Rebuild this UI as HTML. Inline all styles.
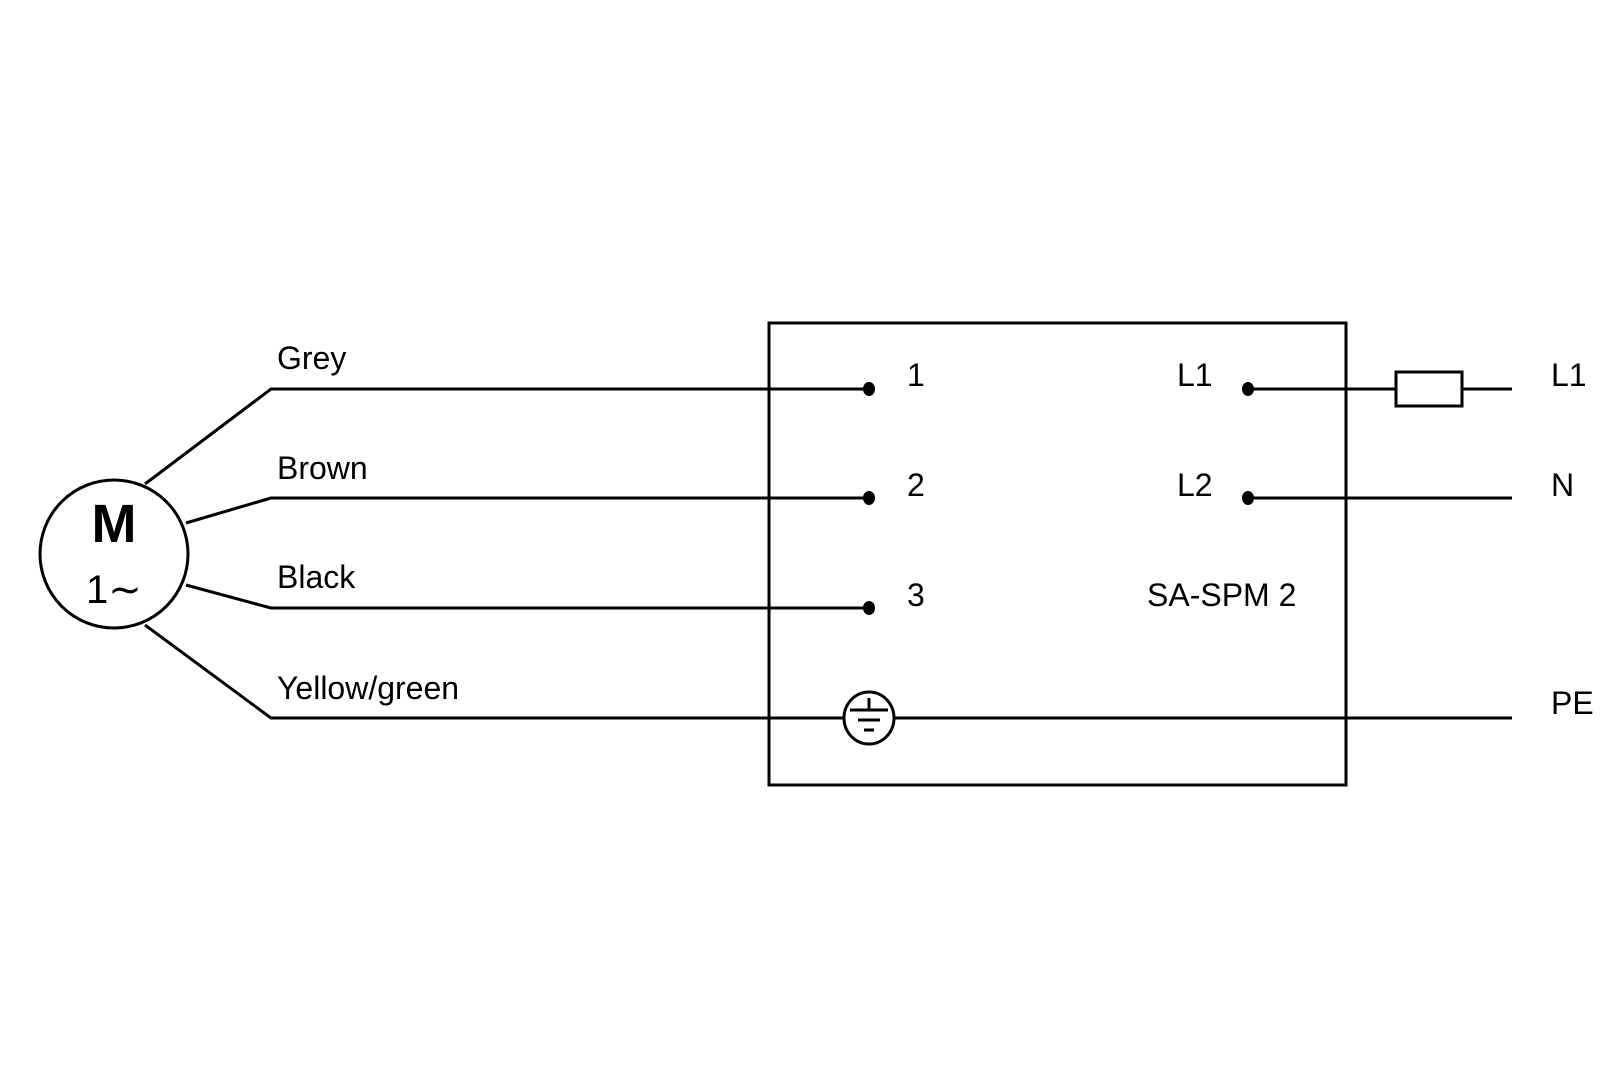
<!DOCTYPE html>
<html><head><style>html,body{margin:0;padding:0;background:#fff}svg{display:block}</style></head><body>
<svg width="1620" height="1080" viewBox="0 0 1620 1080" xmlns="http://www.w3.org/2000/svg" font-family="Liberation Sans, sans-serif">
<rect width="1620" height="1080" fill="#fff"/>
<g stroke="#000" stroke-width="3" fill="none">
<rect x="769" y="323" width="577" height="462"/>
<circle cx="114" cy="554" r="74"/>
<polyline points="145,484 271,389 869,389"/>
<polyline points="186,523 271,498 869,498"/>
<polyline points="186,585 271,608 869,608"/>
<polyline points="145,625 271,718 844,718"/>
<line x1="894" y1="718" x2="1512" y2="718"/>
<line x1="1248" y1="389" x2="1512" y2="389"/>
<line x1="1248" y1="498" x2="1512" y2="498"/>
<rect x="1396" y="372" width="66" height="34" fill="#fff"/>
<ellipse cx="869" cy="718" rx="25" ry="26"/>
<line x1="869" y1="698" x2="869" y2="710"/>
<line x1="850" y1="710" x2="888" y2="710"/>
<line x1="858" y1="720" x2="880" y2="720"/>
<line x1="864" y1="730" x2="874" y2="730"/>
</g>
<g fill="#000">
<ellipse cx="869" cy="389" rx="6" ry="7"/>
<ellipse cx="869" cy="498" rx="6" ry="7"/>
<ellipse cx="869" cy="608" rx="6" ry="7"/>
<ellipse cx="1248" cy="389" rx="6" ry="7"/>
<ellipse cx="1248" cy="498" rx="6" ry="7"/>
</g>
<g font-size="32" fill="#000">
<text x="277" y="369">Grey</text>
<text x="277" y="479">Brown</text>
<text x="277" y="588">Black</text>
<text x="277" y="699">Yellow/green</text>
<text x="907" y="386">1</text>
<text x="907" y="496">2</text>
<text x="907" y="606">3</text>
<text x="1177" y="386">L1</text>
<text x="1177" y="496">L2</text>
<text x="1147" y="606">SA-SPM 2</text>
<text x="1551" y="386">L1</text>
<text x="1551" y="496">N</text>
<text x="1551" y="714">PE</text>
<text x="114" y="542" font-size="54" font-weight="bold" text-anchor="middle">M</text>
<text x="86" y="603" font-size="40">1∼</text>
</g>
</svg>
</body></html>
